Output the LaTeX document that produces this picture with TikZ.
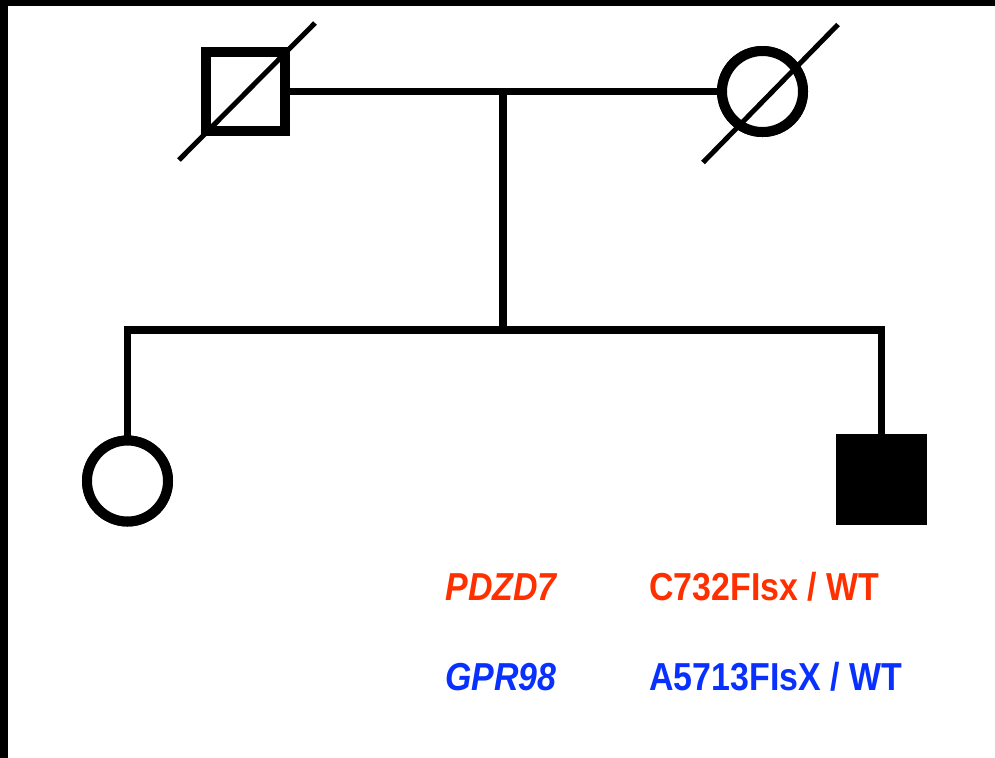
\documentclass[tikz,border=0pt]{standalone}
\usepackage{fontspec}
\newfontfamily\labfont{Liberation Sans}[FakeStretch=0.87]
\definecolor{mutred}{RGB}{255,48,0}
\definecolor{mutblue}{RGB}{8,48,255}
\begin{document}
\begin{tikzpicture}[x=0.5pt,y=-0.5pt,
  conn/.style={line width=3.6pt},
  slash/.style={line width=2.5pt},
  male/.style={draw,line width=5pt,rectangle,minimum size=39.5pt,inner sep=0pt,fill=white},
  female/.style={draw,line width=5pt,circle,minimum size=40.5pt,inner sep=0pt,fill=white},
  lab/.style={anchor=base west,inner sep=0pt,font=\labfont\bfseries\fontsize{19.5pt}{23pt}\selectfont},
  labit/.style={lab,font=\labfont\bfseries\itshape\fontsize{19.5pt}{23pt}\selectfont}]
\useasboundingbox (0,0) rectangle (995,757);
\fill[white] (-4,-4) rectangle (1000,762);
\fill[black] (-4,-4) rectangle (1000,6);
\fill[black] (-4,-4) rectangle (8,762);
% couple line and descent
\coordinate (m) at (503,91.5);
\coordinate (sib) at (503,330);
\node[male] (father) at (245.5,91.5) {};
\node[female] (mother) at (762.5,91.5) {};
\node[female] (daughter) at (127.5,481) {};
\node[male,fill=black,minimum size=40.5pt] (son) at (881.5,479) {};
\draw[conn] (father.east) -- (mother.west);
\draw[conn] (m) -- (sib);
\draw[conn] (daughter.north) -- (daughter.north |- sib) -- (son.north |- sib) -- (son.north);
\node[male] at (father) {};
\node[female] at (mother) {};
\node[female] at (daughter) {};
\node[male,fill=black,minimum size=40.5pt] at (son) {};
% deceased slashes
\draw[slash] ([shift={(-66.5,68.5)}]father.center) -- ([shift={(69.5,-68.5)}]father.center);
\draw[slash] ([shift={(-59.5,71)}]mother.center) -- ([shift={(75.5,-67)}]mother.center);
% genotype labels
\node[labit,text=mutred] (g1) at (445,600) {PDZD7};
\node[lab,text=mutred] (v1) at (649,600) {C732FIsx / WT};
\node[labit,text=mutblue] (g2) at (445,690) {GPR98};
\node[lab,text=mutblue] (v2) at (649,690) {A5713FIsX / WT};
\end{tikzpicture}
\end{document}
